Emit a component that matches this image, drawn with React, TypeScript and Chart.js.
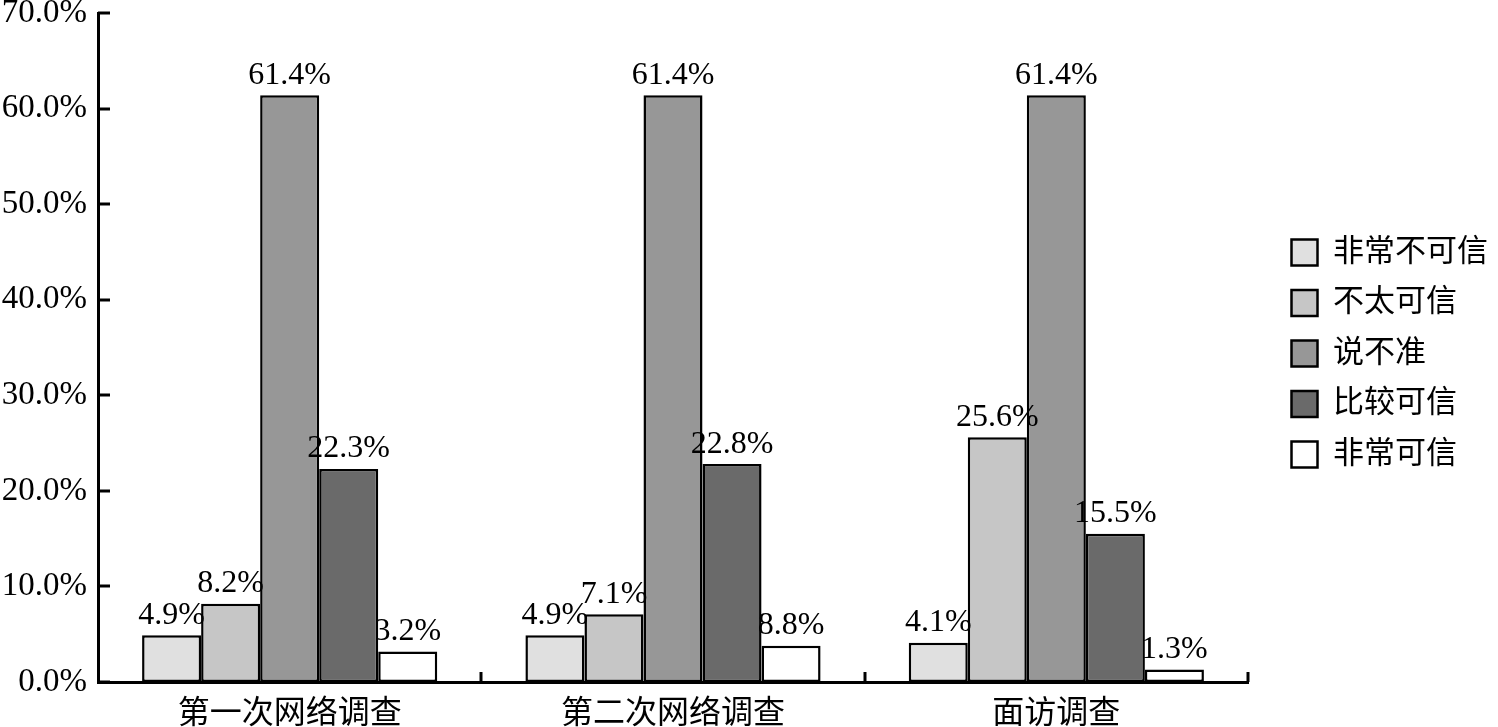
import React, { useEffect, useRef } from 'react';
import { Chart, registerables } from 'chart.js';

Chart.register(...registerables);

const categories = ['第一次网络调查', '第二次网络调查', '面访调查'];
const seriesNames = ['非常不可信', '不太可信', '说不准', '比较可信', '非常可信'];

// bar heights
const veryUnreliable = [4.9, 4.9, 4.1];
const notReliable = [8.2, 7.1, 25.6];
const unsure = [61.4, 61.4, 61.4];
const fairlyReliable = [22.3, 22.8, 15.5];
const veryReliable = [3.2, 3.8, 1.3];

// printed data labels
const labelsVeryUnreliable = ['4.9%', '4.9%', '4.1%'];
const labelsNotReliable = ['8.2%', '7.1%', '25.6%'];
const labelsUnsure = ['61.4%', '61.4%', '61.4%'];
const labelsFairlyReliable = ['22.3%', '22.8%', '15.5%'];
const labelsVeryReliable = ['3.2%', '8.8%', '1.3%'];

const seriesColors = ['#e0e0e0', '#c6c6c6', '#979797', '#6a6a6a', '#ffffff'];

const yMin = 0;
const yMax = 70;
const yStep = 10;

const FONT = '"Liberation Serif", "Noto Sans CJK SC", serif';

export default function App() {
  const canvasRef = useRef<HTMLCanvasElement | null>(null);

  useEffect(() => {
    document.body.style.margin = '0';
    document.body.style.background = '#ffffff';
    const canvas = canvasRef.current;
    if (!canvas) return;

    const values = [veryUnreliable, notReliable, unsure, fairlyReliable, veryReliable];
    const labelSets = [labelsVeryUnreliable, labelsNotReliable, labelsUnsure, labelsFairlyReliable, labelsVeryReliable];

    const labelPlugin = {
      id: 'barLabels',
      afterDatasetsDraw(chart: any) {
        const ctx = chart.ctx;
        ctx.save();
        ctx.fillStyle = '#000';
        ctx.font = `32px ${FONT}`;
        ctx.textAlign = 'center';
        ctx.textBaseline = 'bottom';
        chart.data.datasets.forEach((ds: any, di: number) => {
          const meta = chart.getDatasetMeta(di);
          meta.data.forEach((el: any, i: number) => {
            ctx.fillText(labelSets[di][i], el.x, el.y - 4);
          });
        });
        ctx.restore();
      },
    };

    const axisTicksPlugin = {
      id: 'axisTicks',
      afterDraw(chart: any) {
        const ctx = chart.ctx;
        const area = chart.chartArea;
        const y = chart.scales.y;
        ctx.save();
        ctx.strokeStyle = '#000';
        ctx.lineWidth = 3;
        for (let v = yMin; v <= yMax; v += yStep) {
          const py = Math.round(y.getPixelForValue(v));
          ctx.beginPath();
          ctx.moveTo(area.left, py);
          ctx.lineTo(area.left + 12, py);
          ctx.stroke();
        }
        const n = categories.length;
        const w = (area.right - area.left) / n;
        for (let i = 1; i <= n; i++) {
          const px = Math.round(area.left + i * w);
          ctx.beginPath();
          ctx.moveTo(px, area.bottom);
          ctx.lineTo(px, area.bottom - 10);
          ctx.stroke();
        }
        ctx.restore();
      },
    };

    const chart = new Chart(canvas, {
      type: 'bar',
      data: {
        labels: categories,
        datasets: seriesNames.map((name, i) => ({
          label: name,
          data: values[i],
          backgroundColor: seriesColors[i],
          borderColor: '#000',
          borderWidth: 2.5,
          borderSkipped: false,
          categoryPercentage: 0.77,
          barPercentage: 1.0,
          yAxisID: 'y',
        })),
      },
      options: {
        responsive: false,
        animation: false,
        devicePixelRatio: 1,
        layout: { padding: { top: 13, left: 0, right: 0, bottom: 0 } },
        plugins: {
          legend: {
            position: 'right',
            fullSize: false,
            title: { display: true, text: '', padding: 0, font: { size: 10 } },
            labels: {
              boxWidth: 26,
              boxHeight: 26,
              padding: 19.5,
              color: '#000',
              font: { family: FONT, size: 31 },
            },
          },
          tooltip: { enabled: false },
        },
        scales: {
          x: {
            grid: { display: false },
            border: { display: true, color: '#000', width: 3 },
            ticks: { color: '#000', font: { family: FONT, size: 32 }, padding: 5 },
            afterFit: (s: any) => {
              s.height = 45;
              s.paddingLeft = 0;
              s.paddingRight = 0;
            },
          },
          y: {
            min: yMin,
            max: yMax,
            grid: { display: false, drawTicks: false },
            border: { display: true, color: '#000', width: 3 },
            ticks: {
              stepSize: yStep,
              color: '#000',
              padding: 11,
              font: { family: FONT, size: 33 },
              callback: (v: any) => Number(v).toFixed(1) + '%',
            },
            afterFit: (s: any) => {
              s.width = 98;
              s.paddingTop = 0;
              s.paddingBottom = 0;
            },
          },
          spacer: {
            position: 'right',
            display: true,
            grid: { display: false },
            border: { display: false },
            ticks: { display: false },
            afterFit: (s: any) => {
              s.width = 24;
              s.paddingTop = 0;
              s.paddingBottom = 0;
            },
          },
        },
      },
      plugins: [labelPlugin, axisTicksPlugin],
    } as any);

    return () => chart.destroy();
  }, []);

  return (
    <div style={{ width: 1498, height: 727, background: '#fff' }}>
      <canvas ref={canvasRef} width={1498} height={727} style={{ display: 'block' }} />
    </div>
  );
}
